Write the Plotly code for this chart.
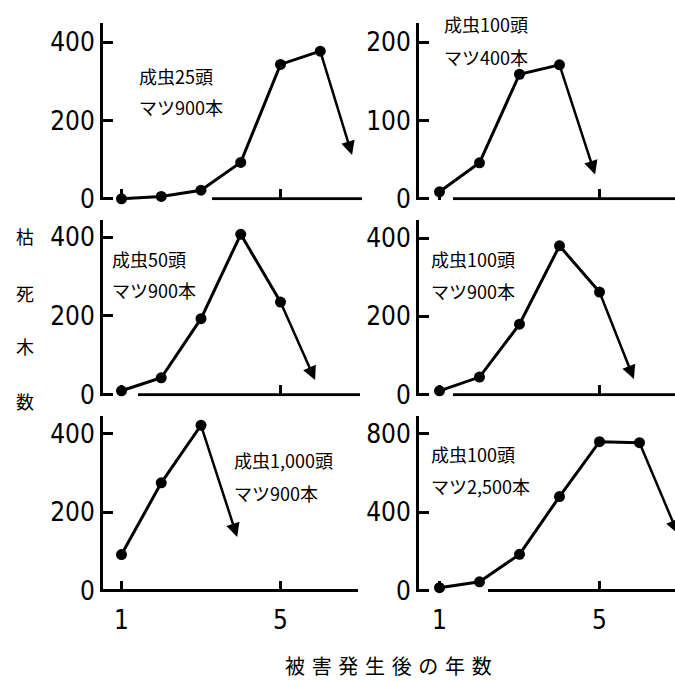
import plotly.graph_objects as go

# ---- data: dead pine trees per year after outbreak, six scenarios ----
years_a = [1, 2, 3, 4, 5, 6]
dead_a = [0, 6, 22, 93, 343, 377]          # 成虫25頭 / マツ900本
years_b = [1, 2, 3, 4]
dead_b = [9, 46, 159, 171]                 # 成虫100頭 / マツ400本
years_c = [1, 2, 3, 4, 5]
dead_c = [10, 43, 193, 407, 235]           # 成虫50頭 / マツ900本
years_d = [1, 2, 3, 4, 5]
dead_d = [10, 45, 180, 380, 262]           # 成虫100頭 / マツ900本
years_e = [1, 2, 3]
dead_e = [92, 275, 422]                    # 成虫1,000頭 / マツ900本
years_f = [1, 2, 3, 4, 5, 6]
dead_f = [15, 45, 185, 480, 760, 755]      # 成虫100頭 / マツ2,500本

# arrow tips (year, count) showing the continuing decline
arrow_tips = [(6.80, 112), (4.89, 31), (5.87, 37), (5.86, 40), (3.91, 137), (6.96, 290)]

labels_beetle = ["成虫25頭", "成虫100頭", "成虫50頭", "成虫100頭", "成虫1,000頭", "成虫100頭"]
labels_pine = ["マツ900本", "マツ400本", "マツ900本", "マツ900本", "マツ900本", "マツ2,500本"]

ytick_vals = [[0, 200, 400], [0, 100, 200], [0, 200, 400], [0, 200, 400], [0, 200, 400], [0, 400, 800]]
xtick_vals = [1, 5]
xtick_text = ["1", "5"]

y_title_chars = ["枯", "死", "木", "数"]
x_title = "被害発生後の年数"

series = [(years_a, dead_a), (years_b, dead_b), (years_c, dead_c),
          (years_d, dead_d), (years_e, dead_e), (years_f, dead_f)]

# ---- layout geometry (pixels) ----
W, H = 675, 681
col_px = [(103, 365), (419, 675)]               # plot area left/right per column
col_year1 = [121.5, 439.5]                      # pixel position of year 1
col_step = [39.75, 40.0]                        # pixels per year
row_px = [(23, 203), (225, 403), (425, 603)]    # axis top / zero line per row
px_per_unit = [0.4, 0.8, 0.4025, 0.4, 0.4, 0.2]
baseline_px = [(212, 362), (453, 675), (138, 360), (453, 675), (103, 358), (488, 675)]
note_pos = [(137, 78, 109), (442, 24, 58), (110, 264, 296),
            (429, 264, 297), (232, 470, 503), (429, 464, 496)]

INK = "black"
tick_font = dict(family="DejaVu Sans Condensed, Liberation Sans Narrow, DejaVu Sans", size=26, color=INK)
jp_font = "Noto Sans CJK JP, Noto Sans CJK SC, sans-serif"

fig = go.Figure()
layout = dict(width=W, height=H, margin=dict(l=0, r=0, t=0, b=0),
              paper_bgcolor="white", plot_bgcolor="white", showlegend=False)
shapes, annotations = [], []

for i, (xs, ys) in enumerate(series):
    r, c = divmod(i, 2)
    n = "" if i == 0 else str(i + 1)
    xa, ya = "x" + n, "y" + n
    left, right = col_px[c]
    top, zero = row_px[r]
    bottom = zero + 1.5
    k = px_per_unit[i]
    x0 = 1 + (left - col_year1[c]) / col_step[c]
    x1 = 1 + (right - col_year1[c]) / col_step[c]
    y_lo = -(bottom - zero) / k
    y_hi = (zero - top) / k

    layout["xaxis" + n] = dict(
        domain=[left / W, right / W], range=[x0, x1], anchor=ya,
        showline=False, showgrid=False, zeroline=False,
        ticks="inside", ticklen=11, tickwidth=3, tickcolor=INK,
        tickvals=xtick_vals, ticktext=xtick_text, ticklabelstandoff=10,
        showticklabels=(r == 2), tickfont=tick_font)
    layout["yaxis" + n] = dict(
        domain=[1 - bottom / H, 1 - top / H], range=[y_lo, y_hi], anchor=xa,
        showline=True, linewidth=3, linecolor=INK,
        showgrid=False, zeroline=False,
        ticks="inside", ticklen=10, tickwidth=3, tickcolor=INK,
        tickvals=ytick_vals[i], tickfont=tick_font)

    fig.add_trace(go.Scatter(
        x=xs, y=ys, xaxis=xa, yaxis=ya, mode="lines+markers",
        line=dict(color=INK, width=3),
        marker=dict(color=INK, size=11), cliponaxis=False))

    # horizontal base line of the panel
    b0, b1 = baseline_px[i]
    shapes.append(dict(
        type="line", xref=xa, yref=ya,
        x0=1 + (b0 - col_year1[c]) / col_step[c], x1=1 + (b1 - col_year1[c]) / col_step[c],
        y0=0, y1=0, line=dict(color=INK, width=3)))

    # arrow from the last observed year
    tx, ty = arrow_tips[i]
    annotations.append(dict(
        xref=xa, yref=ya, axref=xa, ayref=ya, x=tx, y=ty, ax=xs[-1], ay=ys[-1],
        text="", showarrow=True, arrowhead=2, arrowsize=1.1, arrowwidth=2.5,
        arrowcolor=INK, standoff=0, startstandoff=0))

    # scenario labels
    nx, ny1, ny2 = note_pos[i]
    for txt, ny in ((labels_beetle[i], ny1), (labels_pine[i], ny2)):
        annotations.append(dict(
            xref="paper", yref="paper", x=nx / W, y=1 - ny / H,
            xanchor="left", yanchor="middle", showarrow=False, text=txt,
            font=dict(family=jp_font, size=18, color=INK)))

# vertical axis title, one character per line
for ch, cy in zip(y_title_chars, [241, 299, 353, 409]):
    annotations.append(dict(
        xref="paper", yref="paper", x=25 / W, y=1 - cy / H,
        xanchor="center", yanchor="middle", showarrow=False, text=ch,
        font=dict(family=jp_font, size=18, color=INK)))

# horizontal axis title with wide letter spacing
annotations.append(dict(
    xref="paper", yref="paper", x=388 / W, y=1 - 679 / H,
    xanchor="center", yanchor="middle", showarrow=False,
    text="\u2004".join(x_title),
    font=dict(family=jp_font, size=20, color=INK)))

layout["shapes"] = shapes
layout["annotations"] = annotations
fig.update_layout(**layout)
fig.write_html("out.html")
